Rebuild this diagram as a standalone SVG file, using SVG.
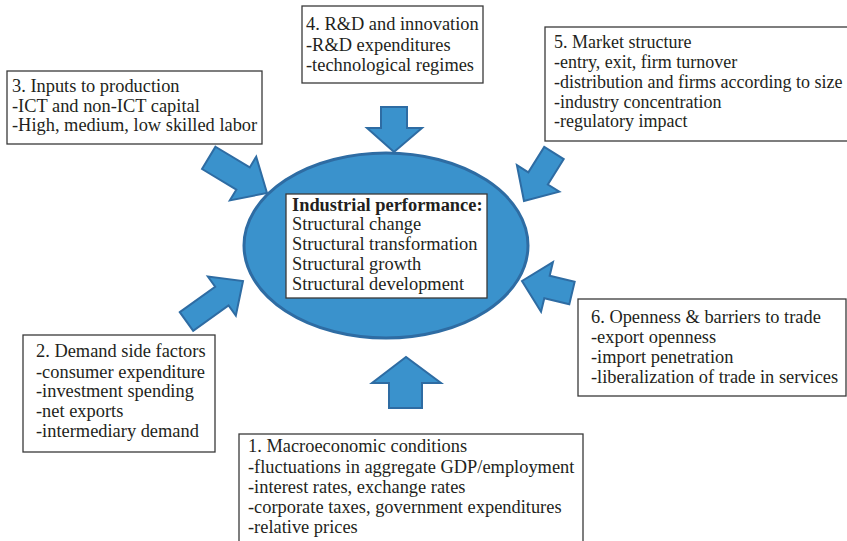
<svg xmlns="http://www.w3.org/2000/svg" width="847" height="541" viewBox="0 0 847 541">
<style>
.box{fill:#fff;stroke:#3a3a3a;stroke-width:1.3}
.t{font-family:"Liberation Serif","Times New Roman",serif;font-size:18.4px;fill:#231f20}
.s{font-size:18px}
.b{font-weight:bold}
.arr{fill:#3a92cc;stroke:#2e6ca3;stroke-width:2;stroke-linejoin:miter}
</style>
<rect width="847" height="541" fill="#fff"/>
<g id="center">
<ellipse cx="386" cy="245.5" rx="142" ry="92.5" fill="#3a92cc" stroke="#2e6ca3" stroke-width="3"/>
<rect class="box" x="286" y="194" width="201" height="104"/>
<text class="t"><tspan class="b" x="292" y="211">Industrial performance:</tspan><tspan x="292" y="230">Structural change</tspan><tspan x="292" y="250">Structural transformation</tspan><tspan x="292" y="270">Structural growth</tspan><tspan x="292" y="290">Structural development</tspan></text>
</g>
<g id="connectors">
<polygon class="arr" points="381,107 407,107 407,128 422,128 394,152 367,128 381,128"/>
<polygon class="arr" points="389,408 422,408 422,383 441,383 406,357 372,383 389,383"/>
<polygon class="arr" transform="translate(267,193) rotate(31.1)" points="-68,-13 -28,-13 -28,-25.5 0,0 -28,25.5 -28,13 -68,13"/>
<polygon class="arr" transform="translate(243,281) rotate(-35.6)" points="-69.5,-11.5 -26,-11.5 -26,-24 0,0 -26,24 -26,11.5 -69.5,11.5"/>
<polygon class="arr" transform="translate(524,201) rotate(122)" points="-56.6,-11.5 -26.6,-11.5 -26.6,-25 0,0 -26.6,25 -26.6,11.5 -56.6,11.5"/>
<polygon class="arr" transform="translate(522,281) rotate(193.5)" points="-51.4,-11.5 -25.7,-11.5 -25.7,-25.5 0,0 -25.7,25.5 -25.7,11.5 -51.4,11.5"/>
</g>
<g id="box3">
<rect class="box" x="7" y="71" width="255" height="73"/>
<text class="t"><tspan x="12" y="92">3. Inputs to production</tspan><tspan x="12" y="112">-ICT and non-ICT capital</tspan><tspan x="12" y="131">-High, medium, low skilled labor</tspan></text>
</g>
<g id="box4">
<rect class="box" x="302" y="6" width="181" height="77"/>
<text class="t"><tspan x="306" y="30">4. R&amp;D and innovation</tspan><tspan x="306" y="51">-R&amp;D expenditures</tspan><tspan x="306" y="71">-technological regimes</tspan></text>
</g>
<g id="box5">
<rect class="box" x="545" y="27" width="305" height="114"/>
<text class="t s"><tspan x="554" y="48">5. Market structure</tspan><tspan x="554" y="68">-entry, exit, firm turnover</tspan><tspan x="554" y="88">-distribution and firms according to size</tspan><tspan x="554" y="108">-industry concentration</tspan><tspan x="554" y="127">-regulatory impact</tspan></text>
</g>
<g id="box2">
<rect class="box" x="23" y="335" width="192" height="117"/>
<text class="t"><tspan x="36" y="357">2. Demand side factors</tspan><tspan x="36" y="378">-consumer expenditure</tspan><tspan x="36" y="397">-investment spending</tspan><tspan x="36" y="417">-net exports</tspan><tspan x="36" y="437">-intermediary demand</tspan></text>
</g>
<g id="box6">
<rect class="box" x="578" y="299" width="268" height="97"/>
<text class="t"><tspan x="591" y="323">6. Openness &amp; barriers to trade</tspan><tspan x="591" y="343">-export openness</tspan><tspan x="591" y="363">-import penetration</tspan><tspan x="591" y="383">-liberalization of trade in services</tspan></text>
</g>
<g id="box1">
<rect class="box" x="239" y="434" width="344" height="115"/>
<text class="t"><tspan x="248" y="452">1. Macroeconomic conditions</tspan><tspan x="248" y="473">-fluctuations in aggregate GDP/employment</tspan><tspan x="248" y="493">-interest rates, exchange rates</tspan><tspan x="248" y="513">-corporate taxes, government expenditures</tspan><tspan x="248" y="533">-relative prices</tspan></text>
</g>
</svg>
